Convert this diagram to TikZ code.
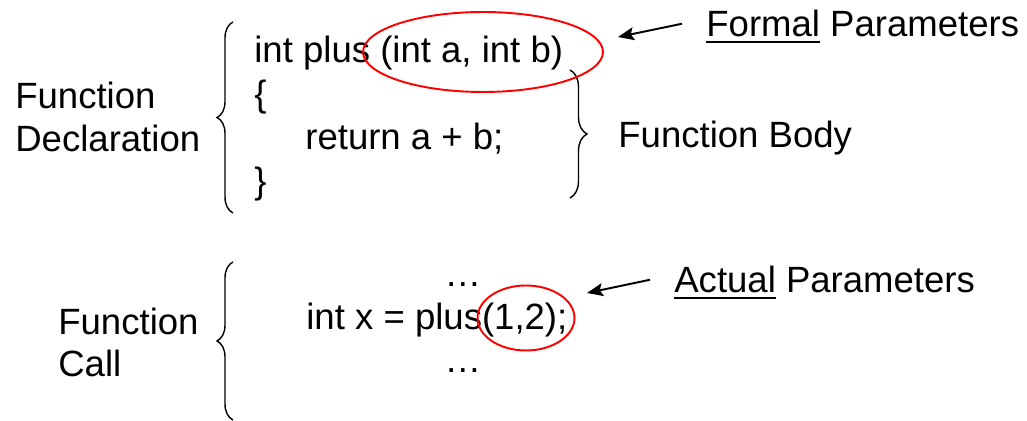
\documentclass[tikz,border=0pt]{standalone}
\usepackage{fontspec}
\setmainfont{Liberation Sans}
\usetikzlibrary{arrows.meta,shapes.geometric,decorations.pathreplacing}
\newcommand{\ulword}[1]{\setbox0\hbox{#1}\rlap{\rule[-0.12cm]{\wd0}{0.04cm}}\box0\relax}

\begin{document}
\begin{tikzpicture}[x=0.02cm, y=-0.02cm,
  every node/.style={font=\fontsize{20.8pt}{25pt}\selectfont, inner sep=0pt},
  txt/.style={anchor=base west},
  lbl/.style={anchor=base west, text depth=0pt, inner xsep=0.48cm},
  curly/.style={decorate, decoration={brace, amplitude=#1}, line width=0.8pt},
  oval/.style={draw=red, ellipse, line width=1.1pt},
  pointer/.style={-{Stealth[length=0.32cm, width=0.26cm, inset=0.06cm]}, line width=1.1pt}]
  \useasboundingbox (0,0) rectangle (1027,421);
  % declaration
  \node[txt] (declA) at (15,109) {Function};
  \node[txt] (declB) at (15,152) {Declaration};
  \draw[curly=0.32cm] (233,213) -- (233,22);
  \node[txt] (head) at (254,63) {int plus (int a, int b)};
  \node[txt] (open) at (254,107) {\{};
  \node[txt] (ret) at (305,150) {return a + b;};
  \node[txt] (close) at (254,194) {\}};
  \draw[curly=0.34cm] (570,70) -- (570,198);
  \node[txt] (body) at (618,148) {Function Body};
  \node[oval, minimum width=4.8cm, minimum height=1.6cm] (formalOval) at (483,52) {};
  \node[lbl] (formal) at (682,37) {\ulword{Formal} Parameters};
  \coordinate (formalTip) at (618,37);
  \draw[pointer] (formal.west) -- (formalTip);
  % call
  \node[txt] (callA) at (58,335) {Function};
  \node[txt] (callB) at (58,377) {Call};
  \draw[curly=0.32cm] (233,420) -- (233,262);
  \node[anchor=base] (dotsA) at (463,287) {…};
  \node[txt] (callLine) at (306,330) {int x = plus(1,2);};
  \node[anchor=base] (dotsB) at (463,373) {…};
  \node[oval, minimum width=1.94cm, minimum height=1.3cm] (actualOval) at (526,318) {};
  \node[lbl] (actual) at (650,293) {\ulword{Actual} Parameters};
  \coordinate (actualTip) at (587,293);
  \draw[pointer] (actual.west) -- (actualTip);
\end{tikzpicture}
\end{document}
